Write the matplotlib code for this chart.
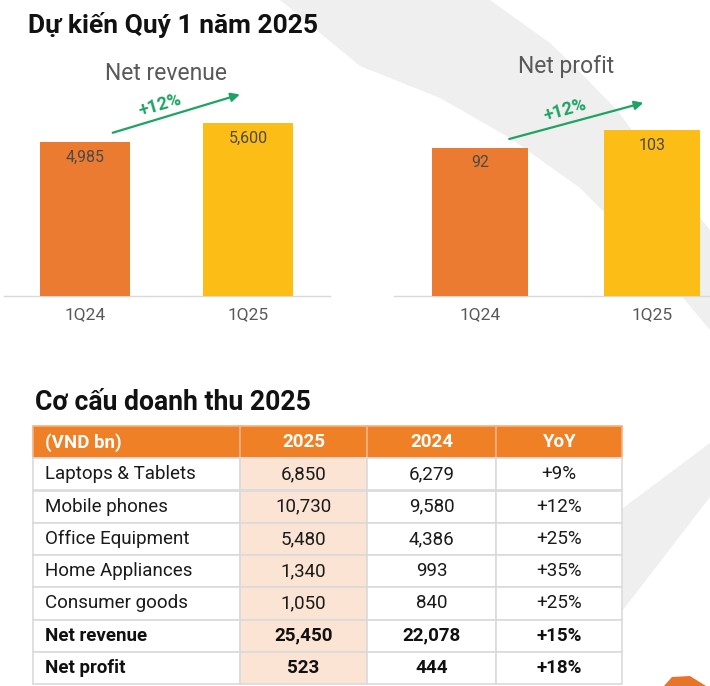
import matplotlib
matplotlib.use("Agg")
import matplotlib.pyplot as plt
from matplotlib.patches import Polygon

# ---------------- data ----------------
quarters = ["1Q24", "1Q25"]
net_revenue = [4985, 5600]
net_profit = [92, 103]
growth_revenue = "+12%"
growth_profit = "+12%"

title_top = "Dự kiến Quý 1 năm 2025"
title_bottom = "Cơ cấu doanh thu 2025"
chart_titles = ["Net revenue", "Net profit"]

table_header = ["(VND bn)", "2025", "2024", "YoY"]
row_labels = ["Laptops & Tablets", "Mobile phones", "Office Equipment",
              "Home Appliances", "Consumer goods", "Net revenue", "Net profit"]
values_2025 = ["6,850", "10,730", "5,480", "1,340", "1,050", "25,450", "523"]
values_2024 = ["6,279", "9,580", "4,386", "993", "840", "22,078", "444"]
yoy = ["+9%", "+12%", "+25%", "+35%", "+25%", "+15%", "+18%"]
bold_rows = ["Net revenue", "Net profit"]

# ---------------- style ----------------
ORANGE = "#EB7B30"
YELLOW = "#FDBD17"
GREEN = "#1DA462"
HEADER = "#F08025"
PEACH = "#FCE4D4"
FONT = ["Roboto", "DejaVu Sans"]
plt.rcParams["font.family"] = FONT

W, H = 710, 686
fig = plt.figure(figsize=(W / 100, H / 100), dpi=100)
fig.patch.set_facecolor("white")


def fx(px):
    return px / W


def fy(py):
    return 1 - py / H


def box(x0, y0, x1, y1):
    return [fx(x0), fy(y1), fx(x1) - fx(x0), fy(y0) - fy(y1)]


# background decoration (light grey swooshes)
bg = fig.add_axes([0, 0, 1, 1], zorder=-10)
bg.set_xlim(0, W)
bg.set_ylim(H, 0)
bg.axis("off")
band = [(280, 0), (360, 66), (440, 98), (510, 138), (580, 188), (650, 258), (710, 330),
        (710, 230), (660, 168), (617, 110), (575, 67), (550, 43), (490, 0)]
bg.add_patch(Polygon(band, closed=True, facecolor="#EFEFEF", edgecolor="none"))
wedge = [(623, 508), (710, 443), (710, 497), (623, 610)]
bg.add_patch(Polygon(wedge, closed=True, facecolor="#EFEFEF", edgecolor="none"))
logo = [(664, 686), (672, 677), (690, 676), (706, 686)]
bg.add_patch(Polygon(logo, closed=True, facecolor="#E8742A", edgecolor="none"))

# titles
fig.text(fx(28), fy(25), title_top, fontsize=19, fontweight="bold",
         color="#111111", va="center", ha="left")
fig.text(fx(35), fy(402), title_bottom, fontsize=19.2, fontweight="bold",
         color="#111111", va="center", ha="left")


def bar_chart(rect, values, ymax, width, title, title_xy, growth, label_fmt):
    ax = fig.add_axes(rect)
    ax.set_facecolor("none")
    xs = range(len(values))
    ax.bar(xs, values, width=width, color=[ORANGE, YELLOW], zorder=3)
    ax.set_xlim(-0.5, 1.5)
    ax.set_ylim(0, ymax)
    for s in ["top", "right", "left"]:
        ax.spines[s].set_visible(False)
    ax.spines["bottom"].set_color("#D9D9D9")
    ax.spines["bottom"].set_linewidth(1.0)
    ax.set_yticks([])
    ax.set_xticks(list(xs))
    ax.set_xticklabels(quarters, fontsize=12.5, color="#595959")
    ax.tick_params(axis="x", length=0, pad=8)
    for x, v in zip(xs, values):
        ax.annotate(label_fmt(v), xy=(x, v), xytext=(0, -15), textcoords="offset pixels",
                    ha="center", va="center", fontsize=11.5, color="#4A4A4A", zorder=4)
    # growth arrow
    start = (0.17, values[0] * 1.06)
    end = (0.95, values[1] * 1.165)
    ax.annotate("", xy=end, xytext=start,
                arrowprops=dict(arrowstyle="-|>", color=GREEN, lw=1.6,
                                mutation_scale=13, shrinkA=0, shrinkB=0),
                annotation_clip=False)
    fig.text(fx(title_xy[0][0]), fy(title_xy[0][1]), title, fontsize=16.5, color="#595959",
             ha="center", va="center")
    fig.text(fx(title_xy[1][0]), fy(title_xy[1][1]), growth, fontsize=13, color=GREEN,
             fontweight="bold", ha="center", va="center", rotation=16)
    return ax


bar_chart(box(3.5, 40, 329.5, 296), net_revenue, 8287, 0.55, chart_titles[0],
          [(166, 74), (160, 105)], growth_revenue, lambda v: f"{v:,}")
bar_chart(box(394, 40, 738, 296), net_profit, 159, 0.56, chart_titles[1],
          [(566, 67), (565, 110)], growth_profit, lambda v: f"{v:,}")

# ---------------- table ----------------
tax = fig.add_axes(box(33, 426, 622, 684))
tax.axis("off")
cell_text = [[r, a, b, c] for r, a, b, c in zip(row_labels, values_2025, values_2024, yoy)]
col_w = [207, 127, 129, 126]
tot = sum(col_w)
tbl = tax.table(cellText=cell_text, colLabels=table_header, bbox=[0, 0, 1, 1],
                colWidths=[w / tot for w in col_w], cellLoc="center")
tbl.auto_set_font_size(False)
for (r, c), cell in tbl.get_celld().items():
    cell.set_edgecolor("#DADADA")
    cell.set_linewidth(1.2)
    txt = cell.get_text()
    txt.set_fontsize(13.5)
    txt.set_color("#1A1A1A")
    if c == 0:
        cell.PAD = 12 / col_w[0]
        cell._loc = "left"
        txt.set_horizontalalignment("left")
    if r == 0:
        cell.set_facecolor(HEADER)
        cell.set_edgecolor("#F5B183")
        txt.set_color("white")
        txt.set_fontweight("bold")
    else:
        cell.set_facecolor(PEACH if c == 1 else "white")
        if row_labels[r - 1] in bold_rows:
            txt.set_fontweight("bold")
            txt.set_color("#111111")

fig.savefig("out.png", dpi=100, facecolor="white")
